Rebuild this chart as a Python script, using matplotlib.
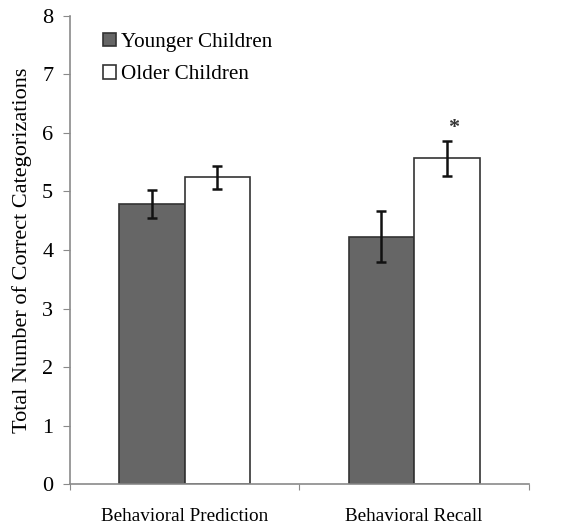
import matplotlib
matplotlib.use("Agg")
import matplotlib.pyplot as plt
import numpy as np

categories = ["Behavioral Prediction", "Behavioral Recall"]
younger = [4.78, 4.23]
younger_err = [0.24, 0.44]
older = [5.24, 5.57]
older_err = [0.19, 0.30]
yticks = [0, 1, 2, 3, 4, 5, 6, 7, 8]

plt.rcParams['font.family'] = ['Liberation Serif', 'DejaVu Serif']

fig = plt.figure(figsize=(5.78, 5.28), dpi=100)
ax = fig.add_axes([0.121, 0.083, 0.794, 0.887])

x = np.arange(len(categories))
w = 0.286
spine_col = "#8a8a8a"
ax.bar(x - w/2, younger, w, color="#666666", edgecolor="#333333", linewidth=1.2,
       label="Younger Children", zorder=2)
ax.bar(x + w/2, older, w, color="white", edgecolor="#333333", linewidth=1.2,
       label="Older Children", zorder=2)
ax.errorbar(x - w/2, younger, yerr=younger_err, fmt="none", ecolor="#111111",
            elinewidth=1.8, capsize=3.5, capthick=1.8, zorder=3)
ax.errorbar(x + w/2, older, yerr=older_err, fmt="none", ecolor="#111111",
            elinewidth=1.8, capsize=3.5, capthick=1.8, zorder=3)

ax.text(x[1] + 0.17, 5.92, "*", ha="center", va="bottom", fontsize=16,
        fontweight="bold", color="#333333")

ax.set_xlim(-0.5, 1.5)
ax.set_ylim(0, 8)
ax.set_yticks(yticks)
ax.set_yticklabels([str(t) for t in yticks], fontsize=16)
ax.set_xticks([-0.5, 0.5, 1.5], minor=False)
ax.set_xticklabels([])
ax.set_xticks(x, minor=True)
ax.set_xticklabels(categories, minor=True, fontsize=13.8)
ax.tick_params(axis="x", which="minor", length=0, pad=17)
ax.tick_params(axis="x", which="major", length=4, color=spine_col, direction="out")
ax.tick_params(axis="y", length=5, color=spine_col, direction="out", pad=7)

for s in ["top", "right"]:
    ax.spines[s].set_visible(False)
for s in ["left", "bottom"]:
    ax.spines[s].set_color(spine_col)
    ax.spines[s].set_linewidth(1.2)

ax.set_ylabel("Total Number of Correct Categorizations", fontsize=16, labelpad=7)

leg = ax.legend(loc="upper left", bbox_to_anchor=(0.04, 0.995), frameon=False,
                fontsize=15.2, handlelength=0.6, handleheight=0.6, handletextpad=0.25,
                labelspacing=0.62, borderaxespad=0.3)

fig.savefig("out.png", dpi=100)
